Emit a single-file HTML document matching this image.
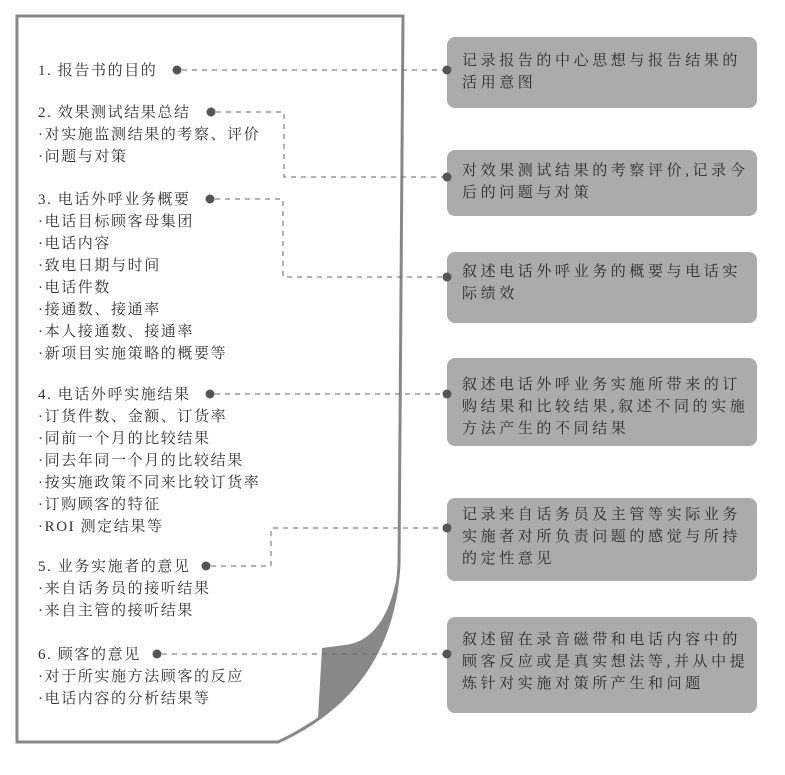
<!DOCTYPE html>
<html><head><meta charset="utf-8"><style>
html,body{margin:0;padding:0;background:#fff;}
svg{display:block}
.l{font-family:"Liberation Serif","Noto Serif CJK SC",serif;font-size:15px;fill:#333;letter-spacing:1.6px}
.r{font-family:"Liberation Serif","Noto Serif CJK SC",serif;font-size:15px;fill:#2a2a2a;letter-spacing:3.6px}
.d{stroke:#666;stroke-width:1;stroke-dasharray:5,5;fill:none}
</style></head><body>
<svg width="785" height="775" viewBox="0 0 785 775" xmlns="http://www.w3.org/2000/svg">
<!-- page -->
<path d="M17,16 L403,16 L399,565 Q392,690 278,742 L17,742 Z" fill="#fff" stroke="#888" stroke-width="3"/>
<path d="M399,565 Q388,640 345,645 L322,648 L318,718 L278,742 Q392,690 399,565 Z" fill="#888"/>
<!-- boxes -->
<g fill="#ababab">
<rect x="447" y="37" width="310" height="71" rx="8"/>
<rect x="447" y="150" width="310" height="66" rx="8"/>
<rect x="447" y="252" width="310" height="71" rx="8"/>
<rect x="447" y="358" width="310" height="88" rx="8"/>
<rect x="447" y="498" width="310" height="83" rx="8"/>
<rect x="447" y="617" width="310" height="96" rx="8"/>
</g>
<!-- connectors -->
<path class="d" d="M182,70 L447,70"/>
<path class="d" d="M216,112 L284,112 L284,177 L447,177"/>
<path class="d" d="M215,199 L283,199 L283,277 L447,277"/>
<path class="d" d="M215,394 L447,394"/>
<path class="d" d="M211,566 L271,566 L271,528 L447,528"/>
<path class="d" d="M162,654 L447,654"/>
<g fill="#555">
<circle cx="177" cy="70" r="4.5"/><circle cx="211" cy="112" r="4.5"/><circle cx="210" cy="199" r="4.5"/>
<circle cx="210" cy="394" r="4.5"/><circle cx="206" cy="566" r="4.5"/><circle cx="157" cy="654" r="4.5"/>
<circle cx="447" cy="70" r="4.5"/><circle cx="447" cy="177" r="4.5"/><circle cx="447" cy="277" r="4.5"/>
<circle cx="447" cy="394" r="4.5"/><circle cx="447" cy="528" r="4.5"/><circle cx="447" cy="654" r="4.5"/>
</g>
<!-- left text -->
<g class="l">
<text x="38" y="75">1. 报告书的目的</text>
<text x="38" y="117">2. 效果测试结果总结</text>
<text x="38" y="139">·对实施监测结果的考察、评价</text>
<text x="38" y="161">·问题与对策</text>
<text x="38" y="204">3. 电话外呼业务概要</text>
<text x="38" y="226">·电话目标顾客母集团</text>
<text x="38" y="248">·电话内容</text>
<text x="38" y="270">·致电日期与时间</text>
<text x="38" y="292">·电话件数</text>
<text x="38" y="314">·接通数、接通率</text>
<text x="38" y="336">·本人接通数、接通率</text>
<text x="38" y="358">·新项目实施策略的概要等</text>
<text x="38" y="399">4. 电话外呼实施结果</text>
<text x="38" y="421">·订货件数、金额、订货率</text>
<text x="38" y="443">·同前一个月的比较结果</text>
<text x="38" y="465">·同去年同一个月的比较结果</text>
<text x="38" y="487">·按实施政策不同来比较订货率</text>
<text x="38" y="509">·订购顾客的特征</text>
<text x="38" y="531">·ROI 测定结果等</text>
<text x="38" y="571">5. 业务实施者的意见</text>
<text x="38" y="593">·来自话务员的接听结果</text>
<text x="38" y="615">·来自主管的接听结果</text>
<text x="38" y="659">6. 顾客的意见</text>
<text x="38" y="681">·对于所实施方法顾客的反应</text>
<text x="38" y="703">·电话内容的分析结果等</text>
</g>
<!-- right text -->
<g class="r">
<text x="462" y="65">记录报告的中心思想与报告结果的</text>
<text x="462" y="87">活用意图</text>
<text x="462" y="175">对效果测试结果的考察评价,记录今</text>
<text x="462" y="197">后的问题与对策</text>
<text x="462" y="276">叙述电话外呼业务的概要与电话实</text>
<text x="462" y="298">际绩效</text>
<text x="462" y="389">叙述电话外呼业务实施所带来的订</text>
<text x="462" y="411">购结果和比较结果,叙述不同的实施</text>
<text x="462" y="433">方法产生的不同结果</text>
<text x="462" y="519">记录来自话务员及主管等实际业务</text>
<text x="462" y="541">实施者对所负责问题的感觉与所持</text>
<text x="462" y="563">的定性意见</text>
<text x="462" y="644">叙述留在录音磁带和电话内容中的</text>
<text x="462" y="666">顾客反应或是真实想法等,并从中提</text>
<text x="462" y="688">炼针对实施对策所产生和问题</text>
</g>
</svg>
</body></html>
